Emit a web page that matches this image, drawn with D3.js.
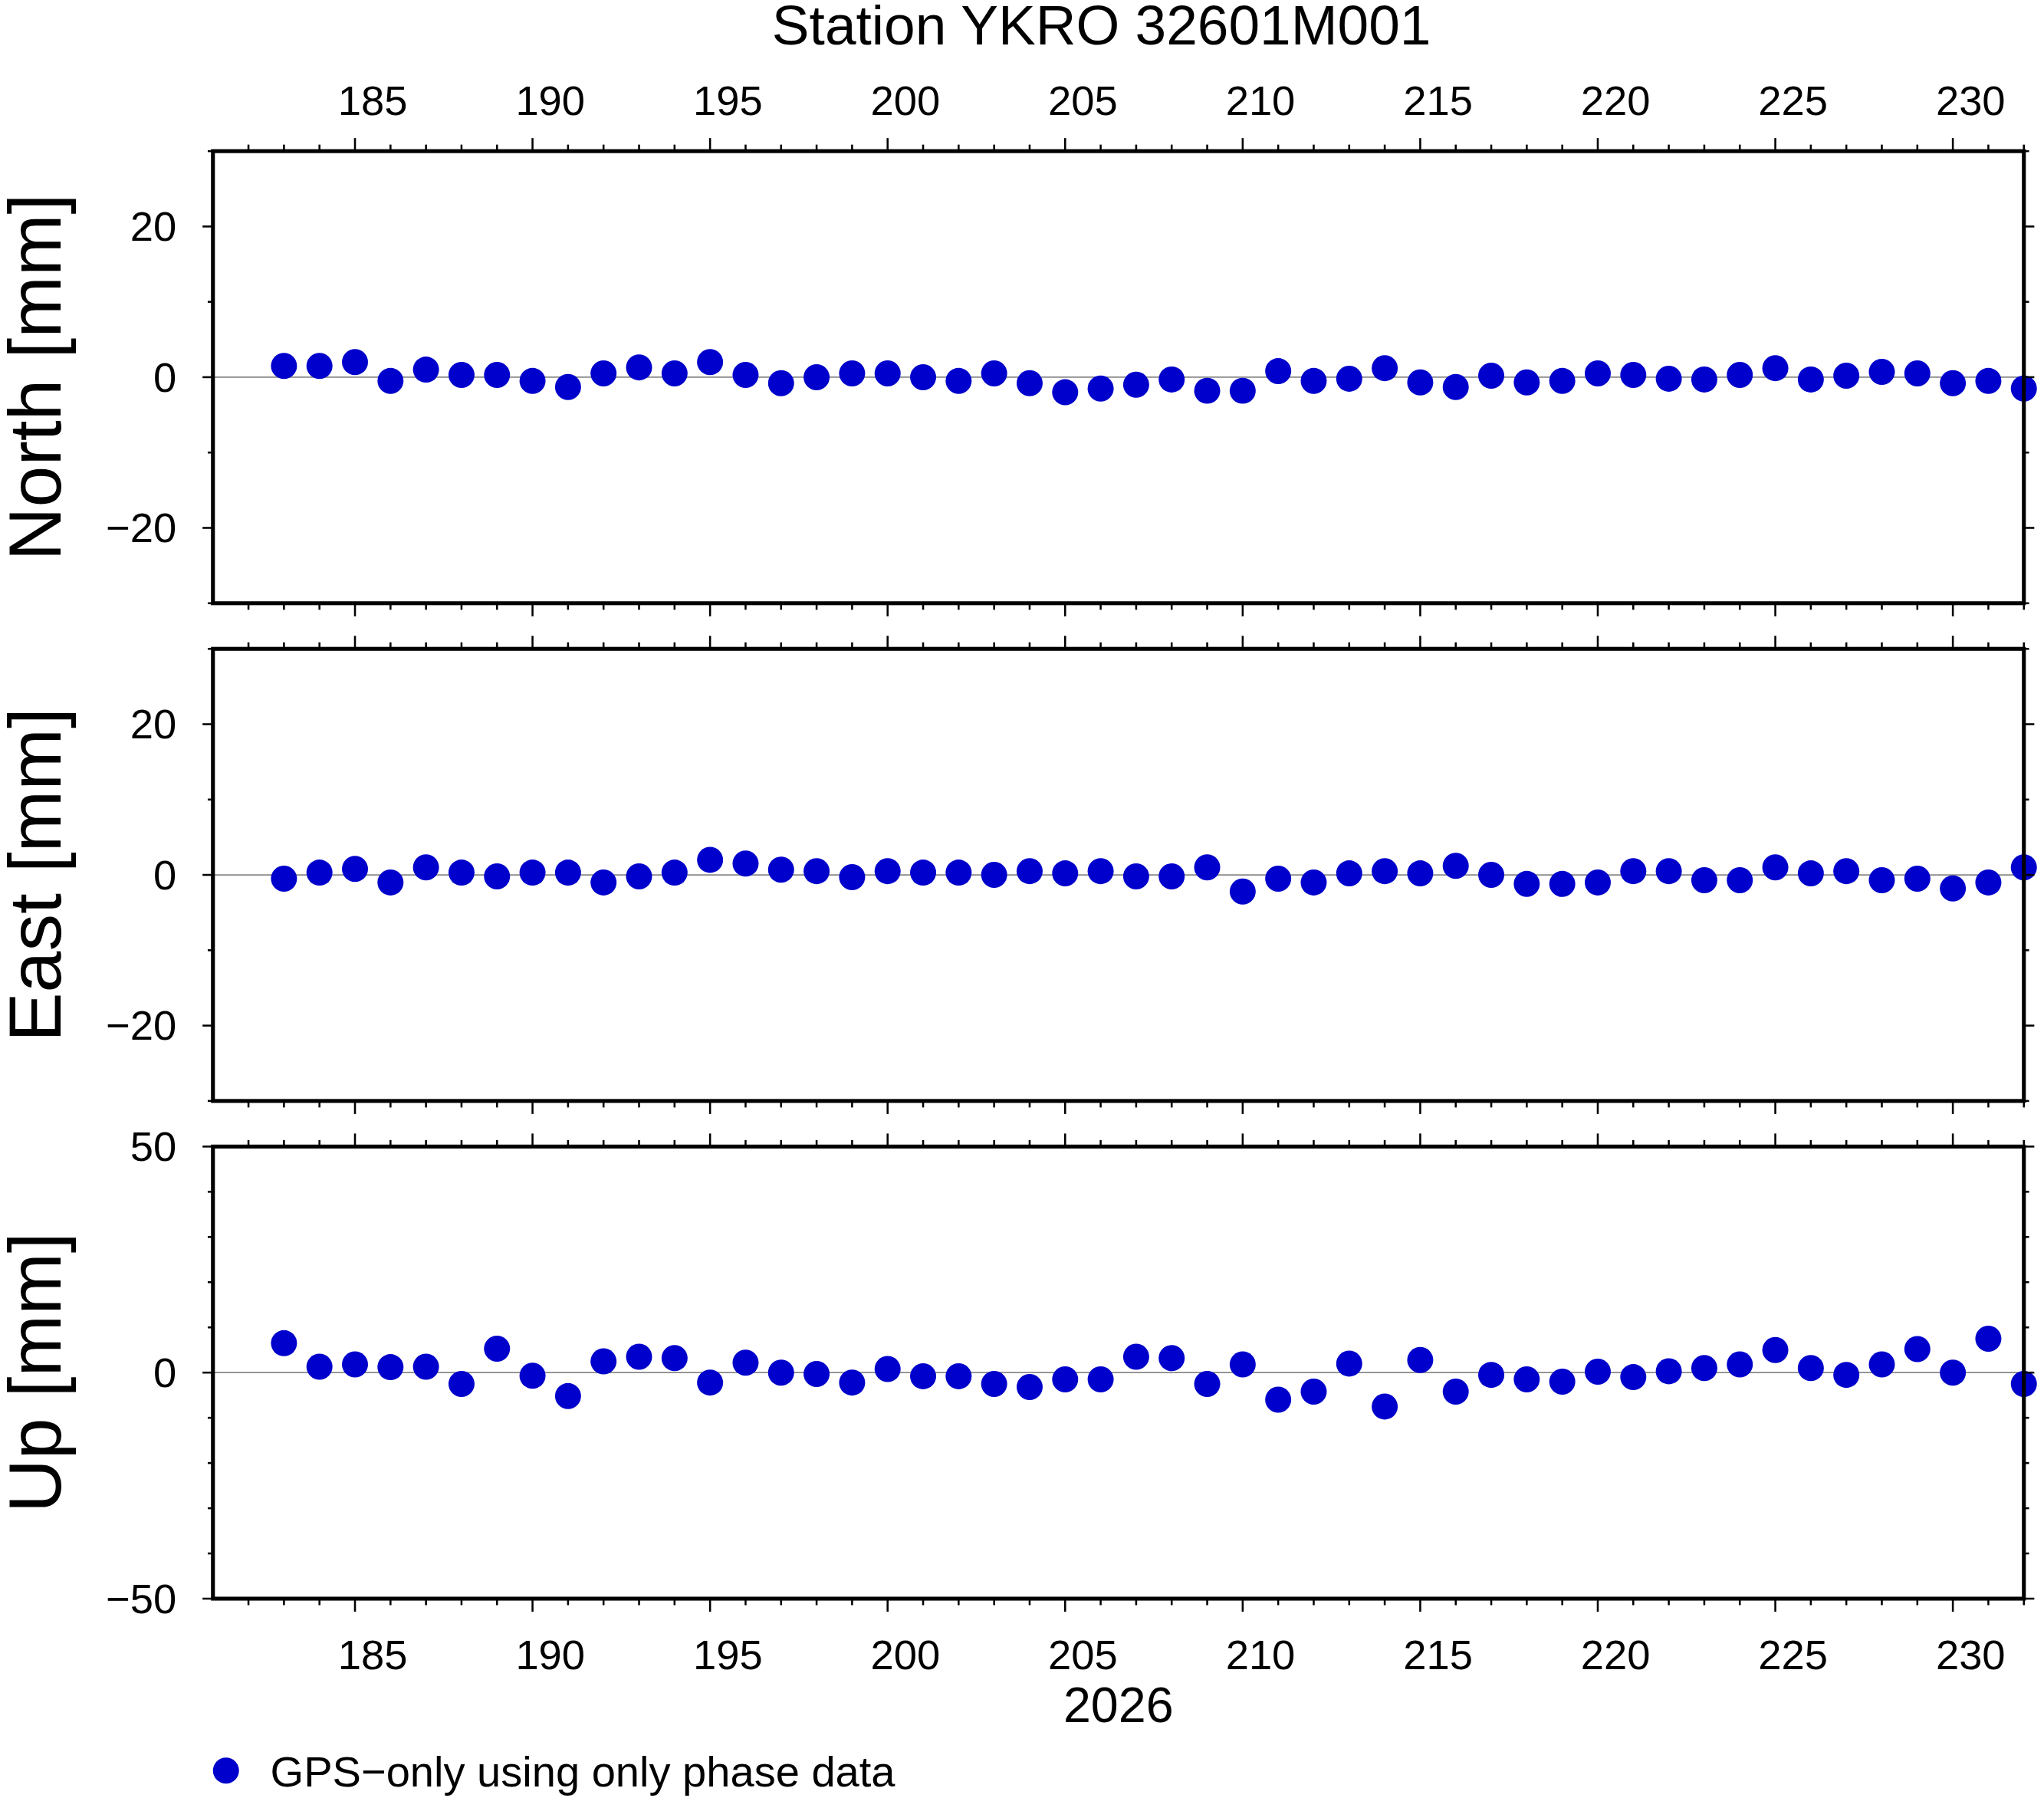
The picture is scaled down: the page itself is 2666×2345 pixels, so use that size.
<!DOCTYPE html>
<html>
<head>
<meta charset="utf-8">
<script src="https://cdn.jsdelivr.net/npm/d3@7"></script>
<style>
  html, body { margin: 0; padding: 0; background: #fff; }
  svg { display: block; }
</style>
</head>
<body>
<script>
var days = d3.range(183, 233)
var north = [1.5, 1.5, 2, -0.5, 1, 0.3, 0.3, -0.5, -1.3, 0.5, 1.3, 0.5, 2, 0.3, -0.8, 0, 0.5, 0.5, 0, -0.5,
  0.5, -0.8, -2, -1.5, -1, -0.3, -1.8, -1.8, 0.8, -0.5, -0.2, 1.2, -0.7, -1.3, 0.2, -0.7, -0.5, 0.5, 0.3, -0.2,
  -0.3, 0.3, 1.2, -0.3, 0.2, 0.7, 0.5, -0.8, -0.5, -1.5]
var east = [-0.5, 0.3, 0.8, -1, 1, 0.3, -0.2, 0.3, 0.3, -1, -0.2, 0.3, 2, 1.5, 0.7, 0.5, -0.3, 0.5, 0.3, 0.3,
  0, 0.5, 0.2, 0.5, -0.2, -0.2, 1, -2.2, -0.5, -1, 0.2, 0.5, 0.2, 1.2, 0, -1.2, -1.2, -1, 0.5, 0.5,
  -0.7, -0.7, 1, 0.2, 0.5, -0.7, -0.5, -1.8, -1, 1]
var up = [6.5, 1.3, 1.8, 1.2, 1.3, -2.5, 5.3, -0.7, -5.2, 2.5, 3.5, 3.2, -2.2, 2.2, 0, -0.3, -2.2, 0.8, -0.8, -0.8,
  -2.5, -3.2, -1.5, -1.5, 3.5, 3.2, -2.5, 1.8, -6, -4.2, 2, -7.5, 2.8, -4.2, -0.5, -1.5, -2, 0.2, -1, 0.3,
  1, 1.8, 5, 1, -0.5, 1.8, 5.2, 0, 7.5, -2.5]
var dayLabels = [185, 190, 195, 200, 205, 210, 215, 220, 225, 230]

var panels = [
  { name: 'North [mm]', values: north, lim: 30, major: 20, minor: 10, top: 116 },
  { name: 'East [mm]', values: east, lim: 30, major: 20, minor: 10, top: 498 },
  { name: 'Up [mm]', values: up, lim: 50, major: 50, minor: 10, top: 880 }
]

var W = 1568, H = 1380
var font = 'Liberation Sans, Arial, sans-serif'
var colour = '#0000cc'
var left = 163, right = 1553, ph = 347

var svg = d3.select('body').append('svg')
  .attr('width', 2666).attr('height', 2345)
  .attr('viewBox', '0 0 ' + W + ' ' + H)
  .style('font-family', font)

var x = d3.scaleLinear().domain([181, 232]).range([left, right])
var allDays = d3.range(182, 233)

svg.append('text').attr('x', 845).attr('y', 34).attr('text-anchor', 'middle')
  .attr('font-size', 43).text('Station YKRO 32601M001')

function xTicks (yEdge, dir) {
  allDays.forEach(function (d) {
    var len = d % 5 === 0 ? 10 : 5
    svg.append('line').attr('x1', x(d)).attr('x2', x(d))
      .attr('y1', yEdge).attr('y2', yEdge + dir * len)
      .attr('stroke', '#000').attr('stroke-width', 1.5)
  })
}

panels.forEach(function (p, i) {
  var y = d3.scaleLinear().domain([-p.lim, p.lim]).range([p.top + ph, p.top])
  var g = svg.append('g')

  g.append('line').attr('x1', left).attr('x2', right).attr('y1', y(0)).attr('y2', y(0))
    .attr('stroke', '#888').attr('stroke-width', 1)

  g.selectAll('circle').data(p.values).enter().append('circle')
    .attr('cx', function (d, k) { return x(days[k]) })
    .attr('cy', function (d) { return y(d) })
    .attr('r', 10).attr('fill', colour)

  g.append('rect').attr('x', left).attr('y', p.top).attr('width', right - left).attr('height', ph)
    .attr('fill', 'none').attr('stroke', '#000').attr('stroke-width', 3)

  var minorT = d3.range(-p.lim, p.lim + 0.01, p.minor)
  minorT.forEach(function (v) {
    var len = v % p.major === 0 ? 8 : 4
    g.append('line').attr('x1', left).attr('x2', left - len).attr('y1', y(v)).attr('y2', y(v))
      .attr('stroke', '#000').attr('stroke-width', 1.5)
    g.append('line').attr('x1', right).attr('x2', right + len).attr('y1', y(v)).attr('y2', y(v))
      .attr('stroke', '#000').attr('stroke-width', 1.5)
  })
  minorT.filter(function (v) { return v % p.major === 0 }).forEach(function (v) {
    g.append('text').attr('x', 135).attr('y', y(v) + 11).attr('text-anchor', 'end')
      .attr('font-size', 32).text(v < 0 ? '\u2212' + (-v) : v)
  })

  g.append('text').attr('transform', 'translate(46,' + (p.top + ph / 2) + ') rotate(-90)')
    .attr('text-anchor', 'middle').attr('font-size', 57).text(p.name)

  xTicks(p.top, -1)
  xTicks(p.top + ph, 1)
})

dayLabels.forEach(function (d) {
  svg.append('text').attr('x', x(d + 0.5)).attr('y', 88).attr('text-anchor', 'middle')
    .attr('font-size', 32).text(d)
  svg.append('text').attr('x', x(d + 0.5)).attr('y', 1281).attr('text-anchor', 'middle')
    .attr('font-size', 32).text(d)
})

svg.append('text').attr('x', 858).attr('y', 1322).attr('text-anchor', 'middle')
  .attr('font-size', 38).text('2026')

svg.append('circle').attr('cx', 173).attr('cy', 1359).attr('r', 10).attr('fill', colour)
svg.append('text').attr('x', 207).attr('y', 1371).attr('font-size', 33)
  .text('GPS\u2212only using only phase data')
</script>
</body>
</html>
